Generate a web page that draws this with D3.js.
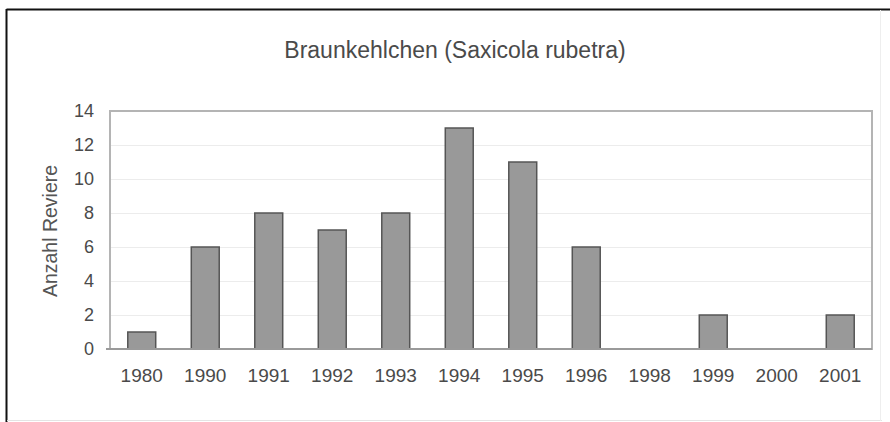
<!DOCTYPE html>
<html>
<head>
<meta charset="utf-8">
<script src="https://cdn.jsdelivr.net/npm/d3@7"></script>
<style>
  html, body { margin: 0; padding: 0; background: #fff; }
  svg { display: block; }
  text { font-family: "Liberation Sans", Arial, sans-serif; }
</style>
</head>
<body>
<svg id="chart" width="890" height="422"></svg>
<script>
// Territory counts per survey year
const years = ["1980", "1990", "1991", "1992", "1993", "1994", "1995", "1996", "1998", "1999", "2000", "2001"];
const territories = [1, 6, 8, 7, 8, 13, 11, 6, 0, 2, 0, 2];
const yTicks = [0, 2, 4, 6, 8, 10, 12, 14];
const chartTitle = "Braunkehlchen (Saxicola rubetra)";
const yTitle = "Anzahl Reviere";

const svg = d3.select("#chart");
const plot = { left: 110, right: 872, top: 111, bottom: 349 };

// Outer frame: dark top and left edges, faint right and bottom edges
svg.append("line").attr("x1", 6.5).attr("x2", 890).attr("y1", 9.5).attr("y2", 9.5)
  .attr("stroke", "#111").attr("stroke-width", 2);
svg.append("line").attr("x1", 6.5).attr("x2", 6.5).attr("y1", 9).attr("y2", 422)
  .attr("stroke", "#111").attr("stroke-width", 2);
svg.append("line").attr("x1", 7).attr("x2", 882).attr("y1", 420.5).attr("y2", 420.5)
  .attr("stroke", "#e4e4e4").attr("stroke-width", 1);
svg.append("line").attr("x1", 880.5).attr("x2", 880.5).attr("y1", 10).attr("y2", 421)
  .attr("stroke", "#eeeeee").attr("stroke-width", 1);

const x = d3.scaleBand()
  .domain(years)
  .range([plot.left, plot.right])
  .paddingInner(0.56)
  .paddingOuter(0.28);

const y = d3.scaleLinear()
  .domain([0, 14])
  .range([plot.bottom, plot.top]);

// Horizontal gridlines
svg.append("g")
  .selectAll("line")
  .data(yTicks.filter(d => d > 0 && d < 14))
  .join("line")
  .attr("x1", plot.left).attr("x2", plot.right)
  .attr("y1", d => y(d) + 0.5).attr("y2", d => y(d) + 0.5)
  .attr("stroke", "#ececec").attr("stroke-width", 1);

// Plot area border
svg.append("rect")
  .attr("x", plot.left).attr("y", plot.top)
  .attr("width", plot.right - plot.left).attr("height", plot.bottom - plot.top)
  .attr("fill", "none").attr("stroke", "#b4b4b4").attr("stroke-width", 2);

// Bars
svg.append("g")
  .selectAll("rect")
  .data(years.map((yr, i) => ({ yr, v: territories[i] })).filter(d => d.v > 0))
  .join("rect")
  .attr("x", d => x(d.yr))
  .attr("y", d => y(d.v))
  .attr("width", x.bandwidth())
  .attr("height", d => y(0) - y(d.v))
  .attr("fill", "#999999")
  .attr("stroke", "#555555")
  .attr("stroke-width", 1.5);

// Bottom axis line over the bars
svg.append("line")
  .attr("x1", plot.left - 4).attr("x2", plot.right)
  .attr("y1", plot.bottom).attr("y2", plot.bottom)
  .attr("stroke", "#9a9a9a").attr("stroke-width", 2);

// Y axis tick labels
const yAxis = d3.axisLeft(y).tickValues(yTicks).tickSize(0).tickPadding(16).tickFormat(d3.format("d"));
const gy = svg.append("g").attr("transform", `translate(${plot.left},0)`).call(yAxis);
gy.select(".domain").remove();
gy.selectAll("text")
  .attr("fill", "#4a4a4a")
  .attr("font-size", 18)
  .attr("font-family", "Liberation Sans, Arial, sans-serif");

// X axis labels
const xAxis = d3.axisBottom(x).tickSize(0).tickPadding(20);
const gx = svg.append("g").attr("transform", `translate(0,${plot.bottom})`).call(xAxis);
gx.select(".domain").remove();
gx.selectAll("text")
  .attr("fill", "#4a4a4a")
  .attr("font-size", 19)
  .attr("font-family", "Liberation Sans, Arial, sans-serif");

// Title
svg.append("text")
  .attr("x", 455).attr("y", 58)
  .attr("text-anchor", "middle")
  .attr("fill", "#4a4a4a")
  .attr("font-size", 23)
  .text(chartTitle);

// Y axis title
svg.append("text")
  .attr("transform", `translate(57,${(plot.top + plot.bottom) / 2 + 1}) rotate(-90)`)
  .attr("text-anchor", "middle")
  .attr("fill", "#555")
  .attr("font-size", 19.5)
  .text(yTitle);
</script>
</body>
</html>
